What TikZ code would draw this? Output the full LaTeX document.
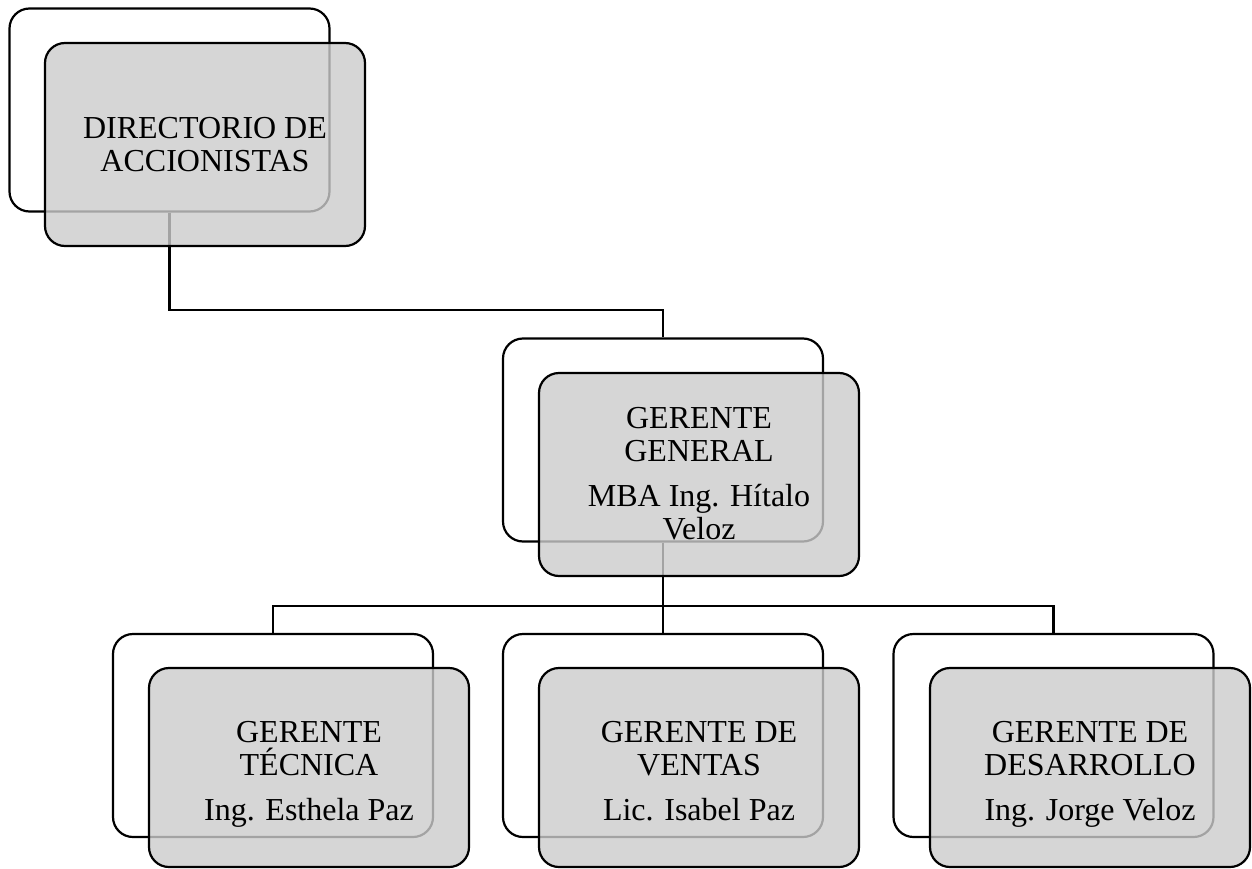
\documentclass[tikz,border=0pt]{standalone}
\usepackage{fontspec}
\setmainfont{Liberation Serif}
\tikzset{
  card/.style={draw, line width=2.2pt, rounded corners=20pt, inner sep=0pt,
    minimum width=320pt, minimum height=203pt},
  backbox/.style={card, fill=white},
  frontbox/.style={card, fill=black!20, fill opacity=0.8},
  lowfront/.style={frontbox, minimum height=199pt},
  caption/.style={align=center, inner sep=0pt, anchor=north,
    font=\fontsize{32}{33}\selectfont},
  link/.style={line width=2.2pt}
}
\begin{document}
\begin{tikzpicture}[x=1pt, y=-1pt]
  \useasboundingbox (0,0) rectangle (1252,869);
  % back cards
  \node[backbox] (bD) at (169.5,110) {};
  \node[backbox] (bG) at (663,440) {};
  \node[backbox] (bT) at (273,735.5) {};
  \node[backbox] (bV) at (663,735.5) {};
  \node[backbox] (bS) at (1053.5,735.5) {};
  % connectors
  \draw[link] (bD.south) -- ++(0,97) -| (bG.north);
  \draw[link] (bG.south) -- ++(0,63) coordinate (hub);
  \draw[link] (hub) -| (bT.north);
  \draw[link] (hub) -| (bS.north);
  \draw[link] (hub) -- (bV.north);
  % translucent front cards
  \node[frontbox] (fD) at (205,144.5) {};
  \node[frontbox] (fG) at (699,474.5) {};
  \node[lowfront] (fT) at (309,767.5) {};
  \node[lowfront] (fV) at (699,767.5) {};
  \node[lowfront] (fS) at (1090,767.5) {};
  % labels, top of first line placed in each card
  \node[caption] (tD) at (fD.center |- 0,117) {DIRECTORIO DE\\ACCIONISTAS};
  \node[caption] (tG) at (fG.center |- 0,407) {GERENTE\\GENERAL\\[12pt]MBA Ing. Hítalo\\Veloz};
  \node[caption] (tT) at (fT.center |- 0,721) {GERENTE\\TÉCNICA\\[12pt]Ing. Esthela Paz};
  \node[caption] (tV) at (fV.center |- 0,721) {GERENTE DE\\VENTAS\\[12pt]Lic. Isabel Paz};
  \node[caption] (tS) at (fS.center |- 0,721) {GERENTE DE\\DESARROLLO\\[12pt]Ing. Jorge Veloz};
\end{tikzpicture}
\end{document}
